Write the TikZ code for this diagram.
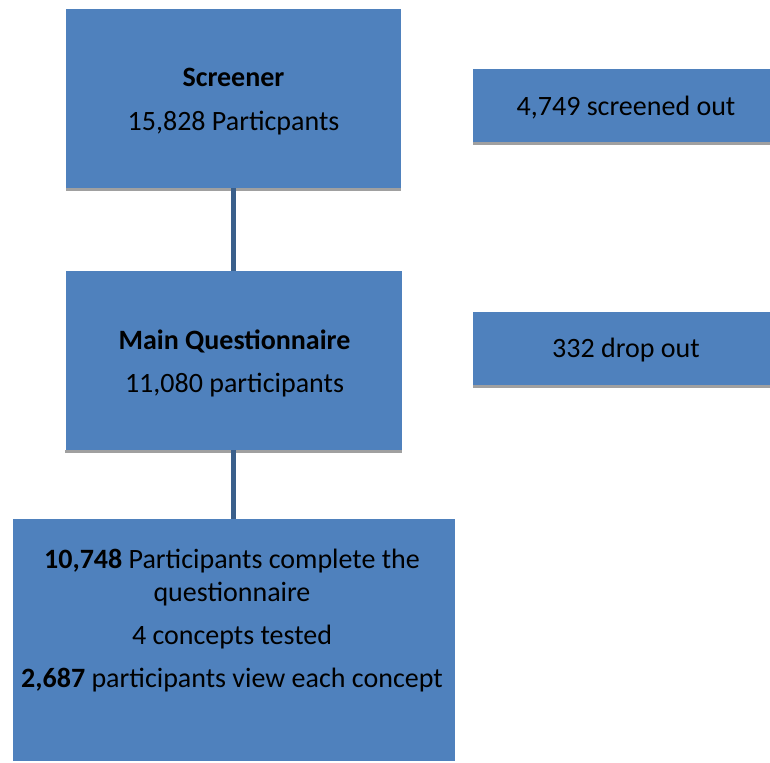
\documentclass[tikz,border=0pt]{standalone}
\usepackage{fontspec}
\setmainfont{Carlito}
\definecolor{boxblue}{HTML}{4F81BD}
\definecolor{linkblue}{HTML}{3A5F8B}
\definecolor{shadowgray}{HTML}{A0A0A0}
\tikzset{
  box/.style={fill=boxblue, draw=none, inner sep=0pt},
  sidebox/.style={box, minimum width=297pt, minimum height=73pt},
  boxtext/.style={align=center, inner sep=0pt, font=\fontsize{28}{33}\selectfont},
  link/.style={linkblue, line width=5pt},
  shade line/.style={shadowgray, line width=3pt}
}
\begin{document}
\begin{tikzpicture}[x=1pt,y=-1pt]
\useasboundingbox (0,0) rectangle (770,762);
% Kaesten links:
\node[box, minimum width=335pt, minimum height=179pt] (screener) at (233.5,98.5) {};
\node[box, minimum width=336pt, minimum height=179pt] (main) at (233.5,360.5) {};
\node[box, minimum width=442pt, minimum height=242pt] (result) at (233.5,640) {};
% Kaesten rechts:
\node[sidebox] (screenout) at (621.5,105.5) {};
\node[sidebox] (dropout) at (621.5,348.5) {};
% Texte:
\node[boxtext] (screenertext) at ([yshift=-3pt]screener) {\textbf{Screener}\\[11pt]15,828 Particpants};
\node[boxtext] (maintext) at ([xshift=1pt,yshift=-2.5pt]main) {\textbf{Main Questionnaire}\\[10pt]11,080 participants};
\node[boxtext] (resulttext) at (232,621) {\textbf{10,748} Participants complete the\\questionnaire\\[10pt]4 concepts tested\\[10pt]\textbf{2,687} participants view each concept};
\node[boxtext] (screenouttext) at ([xshift=4.5pt,yshift=-2pt]screenout) {4,749 screened out};
\node[boxtext] (dropouttext) at ([xshift=4.5pt,yshift=-2pt]dropout) {332 drop out};
% graue Striche unten:
\foreach \b in {screener, main, screenout, dropout}
  \draw[shade line] ([yshift=-1.5pt]\b.south west) -- ([yshift=-1.5pt]\b.south east);
% Verbindungen:
\draw[link] (screener) -- (main);
\draw[link] (main) -- (result);
\end{tikzpicture}
\end{document}
